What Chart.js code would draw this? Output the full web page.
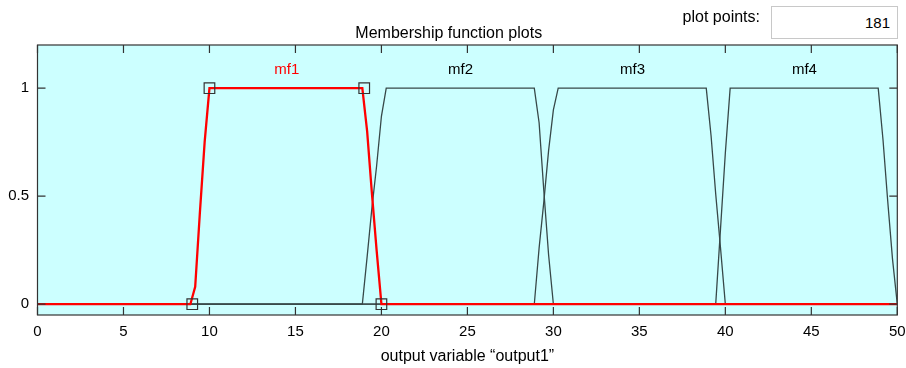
<!DOCTYPE html>
<html lang="en">
<head>
  <meta charset="UTF-8" />
  <title>Membership function plots</title>
  <script src="https://cdn.jsdelivr.net/npm/chart.js"></script>
  <style>
    body {
      margin: 0;
      background: #fff;
      font-family: 'Liberation Sans', Arial, sans-serif;
    }
    .wrap {
      position: relative;
      width: 906px;
      height: 368px;
    }
    .pp-label {
      position: absolute;
      right: 146px;
      top: 9px;
      font-size: 16px;
      line-height: 16px;
      color: #000;
    }
    .pp-box {
      position: absolute;
      left: 771px;
      top: 6px;
      width: 118px;
      height: 31px;
      border: 1px solid #c8c8c8;
      background: #fff;
      font-size: 15px;
      line-height: 31px;
      text-align: right;
      padding-right: 7px;
      color: #000;
    }
    canvas { position: absolute; left: 0; top: 0; }
  </style>
</head>
<body>
  <div class="wrap">
    <canvas id="mfChart" width="906" height="368"></canvas>
    <div class="pp-label">plot points:</div>
    <div class="pp-box">181</div>
  </div>

  <script>
    // values (x in output units, y = membership degree)
    const mf1X = [0, 8.89, 9.17, 9.44, 9.72, 10, 18.89, 19.17, 19.44, 19.72, 20, 50];
    const mf1Y = [0, 0, 0.08, 0.42, 0.75, 1, 1, 0.8, 0.52, 0.25, 0, 0];

    const mf2X = [0, 18.89, 19.17, 19.44, 19.72, 20, 20.28, 28.89, 29.17, 29.44, 29.72, 30, 50];
    const mf2Y = [0, 0, 0.22, 0.44, 0.64, 0.87, 1, 1, 0.84, 0.53, 0.23, 0, 0];

    const mf3X = [0, 28.89, 29.17, 29.44, 29.72, 30, 30.28, 38.89, 39.17, 39.44, 39.72, 40, 50];
    const mf3Y = [0, 0, 0.26, 0.47, 0.71, 0.9, 1, 1, 0.78, 0.51, 0.26, 0, 0];

    const mf4X = [0, 39.44, 39.72, 40, 40.28, 48.89, 49.17, 49.44, 49.72, 50];
    const mf4Y = [0, 0, 0.35, 0.7, 1, 1, 0.76, 0.48, 0.21, 0];

    // corner handles of the selected mf (mf1)
    const handleX = [9, 10, 19, 20];
    const handleY = [0, 1, 1, 0];

    const mfNames = ['mf1', 'mf2', 'mf3', 'mf4'];
    const mfNameX = [14.5, 24.6, 34.6, 44.6];
    const mfNameY = 1.085;

    const xTicks = [0, 5, 10, 15, 20, 25, 30, 35, 40, 45, 50];
    const yTicks = [0, 0.5, 1];

    const toPts = (xs, ys) => xs.map((x, i) => ({ x: x, y: ys[i] }));

    const greyLine = 'rgb(55,72,72)';
    const redLine = '#ff0000';
    const frame = '#333';
    const fontFam = "'Liberation Sans', Arial, sans-serif";

    const decor = {
      id: 'decor',
      beforeDatasetsDraw(chart) {
        const { ctx, chartArea: a } = chart;
        ctx.save();
        ctx.fillStyle = '#ccffff';
        ctx.fillRect(a.left, a.top, a.right - a.left, a.bottom - a.top);
        ctx.restore();
      },
      afterDatasetsDraw(chart) {
        const { ctx, chartArea: a, scales } = chart;
        ctx.save();
        ctx.strokeStyle = frame;
        ctx.lineWidth = 1.2;
        ctx.strokeRect(a.left, a.top, a.right - a.left, a.bottom - a.top);
        ctx.beginPath();
        xTicks.forEach(v => {
          const px = scales.x.getPixelForValue(v);
          ctx.moveTo(px, a.bottom); ctx.lineTo(px, a.bottom - 8);
          ctx.moveTo(px, a.top); ctx.lineTo(px, a.top + 8);
        });
        yTicks.forEach(v => {
          const py = scales.y.getPixelForValue(v);
          ctx.moveTo(a.left, py); ctx.lineTo(a.left + 8, py);
          ctx.moveTo(a.right, py); ctx.lineTo(a.right - 8, py);
        });
        ctx.stroke();

        ctx.font = '15px ' + fontFam;
        ctx.textAlign = 'center';
        ctx.textBaseline = 'middle';
        mfNames.forEach((name, i) => {
          ctx.fillStyle = i === 0 ? redLine : '#000';
          ctx.fillText(name, scales.x.getPixelForValue(mfNameX[i]), scales.y.getPixelForValue(mfNameY));
        });
        ctx.restore();
      }
    };

    const ctx = document.getElementById('mfChart').getContext('2d');
    new Chart(ctx, {
      type: 'scatter',
      data: {
        datasets: [
          {
            label: 'handles',
            data: toPts(handleX, handleY),
            showLine: false,
            pointStyle: 'rect',
            pointRadius: 7.5,
            pointBorderColor: frame,
            pointBackgroundColor: 'rgba(0,0,0,0)',
            pointBorderWidth: 1.2,
            order: 0
          },
          {
            label: 'mf1',
            data: toPts(mf1X, mf1Y),
            showLine: true,
            borderColor: redLine,
            borderWidth: 2.3,
            pointRadius: 0,
            order: 1
          },
          {
            label: 'mf2',
            data: toPts(mf2X, mf2Y),
            showLine: true,
            borderColor: greyLine,
            borderWidth: 1.3,
            pointRadius: 0,
            order: 2
          },
          {
            label: 'mf3',
            data: toPts(mf3X, mf3Y),
            showLine: true,
            borderColor: greyLine,
            borderWidth: 1.3,
            pointRadius: 0,
            order: 3
          },
          {
            label: 'mf4',
            data: toPts(mf4X, mf4Y),
            showLine: true,
            borderColor: greyLine,
            borderWidth: 1.3,
            pointRadius: 0,
            order: 4
          }
        ]
      },
      options: {
        responsive: false,
        animation: false,
        layout: { padding: { left: 0, right: 8.5, top: 0, bottom: 0 } },
        plugins: {
          legend: { display: false },
          tooltip: { enabled: false },
          title: {
            display: true,
            text: 'Membership function plots',
            color: '#000',
            font: { family: fontFam, size: 16, weight: 'normal' },
            padding: { top: 24, bottom: 1.8 }
          }
        },
        scales: {
          x: {
            type: 'linear',
            min: 0,
            max: 50,
            grid: { display: false, drawTicks: false },
            border: { display: false },
            afterBuildTicks: s => { s.ticks = xTicks.map(v => ({ value: v })); },
            afterFit: s => { s.height = 53; s.paddingLeft = 0; s.paddingRight = 0; },
            ticks: {
              color: '#000',
              padding: 7.5,
              maxRotation: 0,
              font: { family: fontFam, size: 15 }
            },
            title: {
              display: true,
              text: 'output variable \u201coutput1\u201d',
              color: '#000',
              font: { family: fontFam, size: 16 },
              padding: { top: 0, bottom: 1.5 }
            }
          },
          y: {
            type: 'linear',
            min: -0.05,
            max: 1.2,
            grid: { display: false, drawTicks: false },
            border: { display: false },
            afterBuildTicks: s => { s.ticks = yTicks.map(v => ({ value: v })); },
            afterFit: s => { s.width = 37.5; s.paddingTop = 0; s.paddingBottom = 0; },
            ticks: {
              color: '#000',
              padding: 8.5,
              font: { family: fontFam, size: 15 },
              callback: v => String(v)
            }
          }
        }
      },
      plugins: [decor]
    });
  </script>
</body>
</html>
